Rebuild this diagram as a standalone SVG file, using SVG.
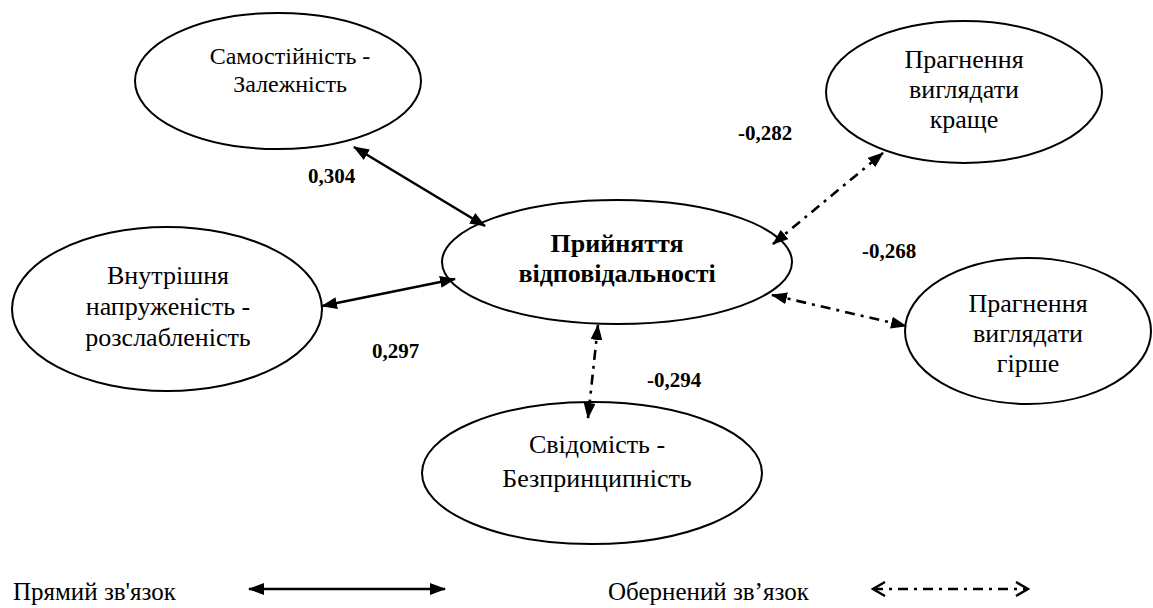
<svg xmlns="http://www.w3.org/2000/svg" width="1153" height="608" viewBox="0 0 1153 608" font-family="'Liberation Serif', 'DejaVu Serif', serif">
  <style>
    .node ellipse { fill: #fff; stroke: #000; stroke-width: 2; }
    text { font-family: 'Liberation Serif', 'DejaVu Serif', serif; fill: #000; }
    .lbl { text-anchor: middle; }
    .n24 { font-size: 24px; }
    .n26 { font-size: 26px; }
    .hub { font-size: 26px; font-weight: bold; }
    .coef { font-size: 21px; font-weight: bold; }
    .legend { font-size: 25px; }
    .direct { stroke: #000; stroke-width: 2.6; fill: none; marker-start: url(#solidHead); marker-end: url(#solidHead); }
    .inverse { stroke: #000; stroke-width: 2.6; fill: none; stroke-dasharray: 10 6 3 6; marker-start: url(#solidHead); marker-end: url(#solidHead); }
    .inverse-key { stroke: #000; stroke-width: 2.4; fill: none; stroke-dasharray: 10 6 3 6; marker-start: url(#openHead); marker-end: url(#openHead); }
  </style>
  <defs>
    <marker id="solidHead" viewBox="0 0 16 12" refX="15" refY="6" markerWidth="16" markerHeight="12" markerUnits="userSpaceOnUse" orient="auto-start-reverse">
      <path d="M0,0 L16,6 L0,12 Z" fill="#000"/>
    </marker>
    <marker id="openHead" viewBox="0 0 16 16" refX="14" refY="8" markerWidth="16" markerHeight="16" markerUnits="userSpaceOnUse" orient="auto-start-reverse">
      <path d="M2,1 L14,8 L2,15" fill="none" stroke="#000" stroke-width="2.4"/>
    </marker>
  </defs>

  <rect width="1153" height="608" fill="#fff"/>

  <!-- nodes -->
  <g id="node-autonomy" class="node">
    <ellipse cx="278" cy="81" rx="143" ry="68"/>
    <text class="lbl n24" x="290" y="64">Самостійність -</text>
    <text class="lbl n24" x="290" y="92">Залежність</text>
  </g>

  <g id="node-tension" class="node">
    <ellipse cx="167" cy="309" rx="155" ry="82"/>
    <text class="lbl n26" x="168" y="284">Внутрішня</text>
    <text class="lbl n26" x="168" y="315">напруженість -</text>
    <text class="lbl n26" x="168" y="346">розслабленість</text>
  </g>

  <g id="node-responsibility" class="node">
    <ellipse cx="617" cy="262" rx="175" ry="62"/>
    <text class="lbl hub" x="617" y="252">Прийняття</text>
    <text class="lbl hub" x="617" y="282">відповідальності</text>
  </g>

  <g id="node-look-better" class="node">
    <ellipse cx="964" cy="92" rx="138" ry="71"/>
    <text class="lbl n26" x="964" y="68">Прагнення</text>
    <text class="lbl n26" x="964" y="98">виглядати</text>
    <text class="lbl n26" x="964" y="128">краще</text>
  </g>

  <g id="node-look-worse" class="node">
    <ellipse cx="1028" cy="331" rx="123" ry="73"/>
    <text class="lbl n26" x="1028" y="312">Прагнення</text>
    <text class="lbl n26" x="1028" y="342">виглядати</text>
    <text class="lbl n26" x="1028" y="372">гірше</text>
  </g>

  <g id="node-conscience" class="node">
    <ellipse cx="592" cy="473" rx="170" ry="71"/>
    <text class="lbl n26" x="597" y="453">Свідомість -</text>
    <text class="lbl n26" x="597" y="487">Безпринципність</text>
  </g>

  <!-- connectors, drawn over the ellipse outlines -->
  <g id="connectors">
    <line class="direct" x1="354" y1="147" x2="485" y2="226"/>
    <line class="direct" x1="322" y1="306" x2="455" y2="279"/>
    <line class="inverse" x1="773" y1="244" x2="883" y2="153"/>
    <line class="inverse" x1="772" y1="295" x2="906" y2="326"/>
    <line class="inverse" x1="598" y1="325" x2="588" y2="418"/>
  </g>

  <!-- correlation coefficients -->
  <g id="coefficients">
    <text class="coef" x="308" y="183">0,304</text>
    <text class="coef" x="372" y="358">0,297</text>
    <text class="coef" x="738" y="140">-0,282</text>
    <text class="coef" x="862" y="258">-0,268</text>
    <text class="coef" x="647" y="387">-0,294</text>
  </g>

  <!-- legend -->
  <g id="legend">
    <text class="legend" x="13" y="600">Прямий зв'язок</text>
    <line class="direct" x1="249" y1="589" x2="445" y2="589"/>
    <text class="legend" x="608" y="600">Обернений зв’язок</text>
    <line class="inverse-key" x1="873" y1="589" x2="1028" y2="589"/>
  </g>
</svg>
